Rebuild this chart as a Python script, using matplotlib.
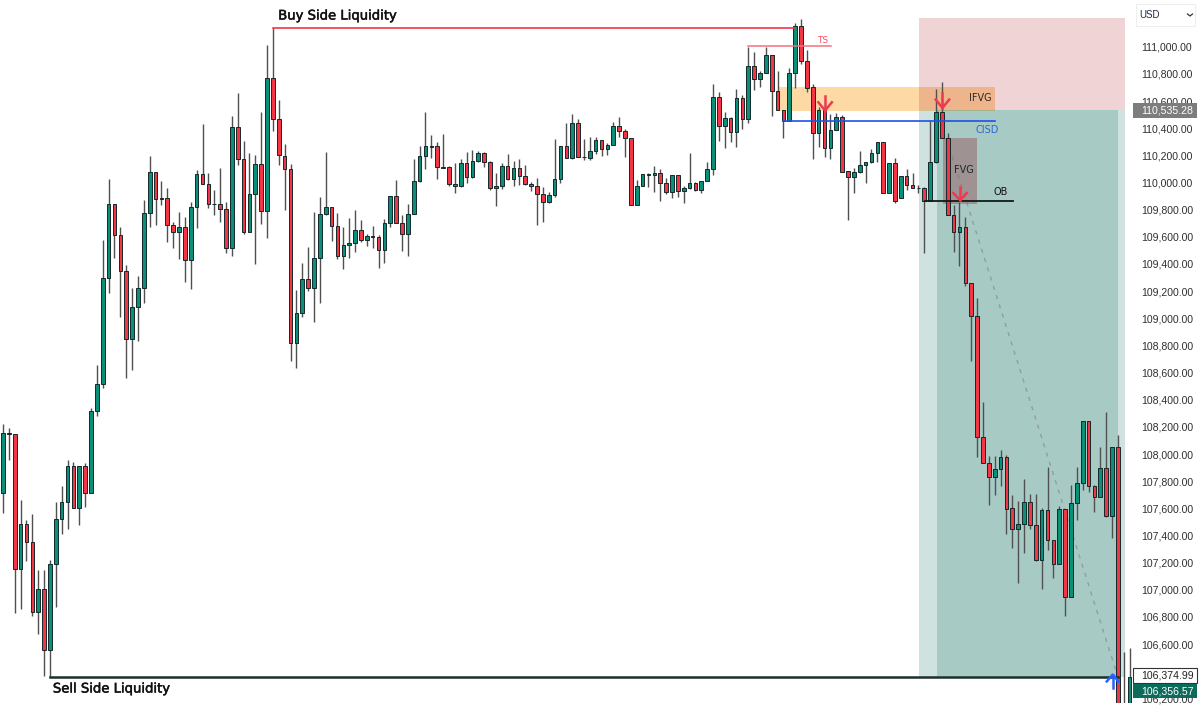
from __future__ import annotations

import matplotlib

matplotlib.use("Agg")

import matplotlib.patheffects as pe
import matplotlib.pyplot as plt
import numpy as np
from matplotlib.patches import Rectangle


OPENS = [
    107710, 108157, 108147, 107155, 107484, 107349, 106836, 107003, 106554, 107187,
    107519, 107644, 107911, 107600, 107911, 107715, 108317, 108513, 109294, 109839,
    109611, 109348, 108845, 109080, 109223, 109777, 110075, 109883, 109883, 109687,
    109635, 109670, 109431, 109817, 110060, 109991, 109841, 109841, 109807, 109515,
    110411, 110171, 109635, 109913, 110134, 109792, 110767, 110467, 110197, 110101,
    108820, 109041, 109291, 109220, 109441, 109765, 109817, 109677, 109458, 109537,
    109552, 109648, 109578, 109603, 109600, 109505, 109704, 109898, 109704, 109623,
    109765, 110009, 110197, 110266, 110266, 110116, 110114, 109991, 109976, 110141,
    110038, 110160, 110217, 110151, 109961, 109974, 110119, 110023, 110107, 110050,
    109986, 109976, 109917, 109856, 109908, 110028, 110269, 110180, 110438, 110190,
    110182, 110232, 110311, 110249, 110276, 110416, 110379, 110327, 109836, 109976,
    110065, 110053, 110070, 109994, 109932, 110055, 109939, 109961, 109998, 109944,
    110013, 110101, 110632, 110416, 110475, 110374, 110620, 110465, 110858, 110762,
    110809, 110939, 110674, 110536, 110453, 110809, 111155, 110897, 110701, 110362,
    110532, 110254, 110384, 110484, 110082, 110042, 110075, 110126, 110148, 110215,
    110296, 109925, 110141, 109883, 110050, 109981, 109959, 109957, 109861, 110148,
    110517, 110330, 109758, 109635, 109674, 109257, 109019, 108123, 107931, 107830,
    107887, 107975, 107600, 107447, 107486, 107644, 107475, 107221, 107587, 107364,
    107192, 107592, 106949, 107637, 107784, 108241, 107764, 107685, 107899, 107545,
    108051, 106100, 106150,
]
HIGHS = [
    108221, 108191, 108147, 107661, 107514, 107556, 107143, 107145, 107217, 107646,
    107764, 107956, 107939, 107911, 107931, 108336, 108655, 109576, 110025, 109839,
    109674, 109392, 109220, 109309, 109869, 110197, 110075, 110009, 109957, 109711,
    109785, 109743, 109854, 110092, 110431, 110068, 109942, 110104, 109856, 110490,
    110657, 110308, 110215, 110202, 110517, 111013, 111136, 110607, 110286, 110136,
    109208, 109409, 109527, 109780, 109891, 110227, 109817, 109777, 109670, 109736,
    109795, 109724, 109620, 109677, 109611, 109729, 109898, 110018, 109763, 109841,
    110173, 110271, 110521, 110350, 110300, 110355, 110119, 110141, 110171, 110224,
    110239, 110234, 110227, 110156, 110068, 110146, 110207, 110160, 110171, 110131,
    110003, 110031, 109964, 109930, 110318, 110269, 110436, 110502, 110467, 110318,
    110337, 110337, 110311, 110293, 110448, 110480, 110392, 110327, 110018, 110065,
    110068, 110121, 110101, 110031, 110055, 110055, 109976, 110219, 110006, 110013,
    110151, 110723, 110669, 110521, 110484, 110686, 110646, 111000, 110963, 110821,
    111000, 110939, 110819, 110536, 110841, 111172, 111202, 110976, 110725, 110554,
    110571, 110502, 110512, 110497, 110082, 110104, 110229, 110153, 110244, 110296,
    110296, 110141, 110178, 110050, 110099, 110072, 109981, 109964, 110460, 110688,
    110742, 110362, 109834, 109858, 109748, 109257, 109151, 108383, 107987, 107985,
    108029, 107992, 107698, 107654, 107816, 107705, 107705, 107600, 107906, 107364,
    107619, 107592, 107772, 107906, 108241, 108241, 107772, 108054, 108307, 108051,
    108140, 106544, 106573,
]
LOWS = [
    107568, 107956, 106831, 106860, 107212, 106809, 106674, 106367, 106359, 106871,
    107411, 107447, 107600, 107479, 107609, 107710, 108280, 108484, 109184, 109446,
    109011, 108562, 108619, 108834, 109110, 109670, 109689, 109834, 109564, 109515,
    109436, 109265, 109213, 109662, 109991, 109814, 109760, 109709, 109483, 109461,
    110129, 109618, 109635, 109397, 109696, 109589, 110381, 110131, 109797, 108687,
    108631, 109011, 109203, 108974, 109110, 109760, 109571, 109436, 109360, 109441,
    109488, 109564, 109532, 109515, 109372, 109409, 109674, 109704, 109497, 109456,
    109765, 110006, 110097, 110178, 110023, 110104, 109976, 109920, 109969, 109994,
    110033, 110151, 110116, 109944, 109827, 109950, 110018, 109974, 109981, 109981,
    109935, 109687, 109709, 109851, 109895, 109998, 110180, 110175, 110185, 110165,
    110165, 110210, 110195, 110202, 110276, 110337, 110185, 109836, 109836, 109976,
    109969, 109932, 109866, 109915, 109888, 109895, 109851, 109954, 109937, 109920,
    110013, 110057, 110305, 110254, 110296, 110263, 110392, 110436, 110681, 110701,
    110809, 110490, 110536, 110325, 110453, 110698, 110873, 110664, 110171, 110259,
    110190, 110175, 110384, 110079, 109723, 109925, 110067, 109994, 110141, 110153,
    109925, 109925, 109851, 109883, 109944, 109957, 109925, 109483, 109861, 110141,
    110330, 109758, 109490, 109387, 109240, 108687, 107980, 107931, 107624, 107698,
    107764, 107411, 107305, 107048, 107268, 107445, 107214, 107008, 107293, 107084,
    107192, 106809, 106949, 107514, 107735, 107718, 107573, 107685, 107538, 107383,
    106000, 106000, 106000,
]
CLOSES = [
    108157, 108145, 107155, 107482, 107349, 106836, 107003, 106554, 107187, 107519,
    107644, 107914, 107600, 107911, 107715, 108317, 108513, 109294, 109839, 109611,
    109348, 108845, 109080, 109223, 109777, 110075, 109880, 109880, 109689, 109635,
    109670, 109431, 109817, 110060, 109991, 109841, 109839, 109807, 109515, 110411,
    110171, 109635, 109913, 110134, 109792, 110767, 110467, 110200, 110101, 108820,
    109041, 109291, 109220, 109441, 109765, 109817, 109677, 109458, 109537, 109552,
    109648, 109578, 109606, 109600, 109505, 109704, 109898, 109704, 109623, 109765,
    110009, 110197, 110266, 110263, 110116, 110109, 109991, 109976, 110141, 110038,
    110160, 110217, 110151, 109959, 109976, 110119, 110023, 110107, 110048, 109986,
    109976, 109917, 109856, 109908, 110028, 110269, 110180, 110438, 110190, 110185,
    110232, 110311, 110249, 110276, 110416, 110379, 110327, 109836, 109976, 110065,
    110055, 110072, 109994, 109932, 110055, 109937, 109961, 109996, 109944, 110013,
    110101, 110632, 110418, 110475, 110374, 110620, 110465, 110858, 110762, 110809,
    110939, 110674, 110536, 110453, 110809, 111155, 110897, 110698, 110362, 110532,
    110254, 110384, 110484, 110079, 110042, 110075, 110126, 110153, 110215, 110296,
    109925, 110141, 109866, 110050, 109981, 109961, 109957, 109861, 110148, 110517,
    110330, 109758, 109635, 109674, 109257, 109019, 108123, 107931, 107830, 107887,
    107975, 107595, 107447, 107486, 107644, 107475, 107219, 107587, 107364, 107192,
    107592, 106949, 107637, 107784, 108241, 107764, 107685, 107899, 107545, 108051,
    106100, 106120, 106357,
]

PRICE_TICKS = list(range(106200, 111001, 200))

ENTRY_PRICE = 110535.28
STOP_PRICE = 111211
TARGET_PRICE = 106358
TARGET_LABEL = 106374.99
LAST_PRICE = 106356.57
BUY_LEVEL = 111136
TS_LEVEL = 111003
CISD_LEVEL = 110450
OB_LEVEL = 109860
IFVG_TOP, IFVG_BOTTOM = 110705, 110529
FVG_TOP, FVG_BOTTOM = 110325, 109839

UP = "#0a8f79"
DOWN = "#f23645"
EDGE = "#14282a"
WICK = "#505050"

WIDTH, HEIGHT = 1200, 709


def band(ax, x0, x1, top, bottom, color, alpha, z):
    ax.add_patch(Rectangle((x0, bottom), x1 - x0, top - bottom, facecolor=color, edgecolor="none", alpha=alpha, zorder=z))


def down_arrow(ax, x, tip, tail):
    arm = (tail - tip) * 0.55
    ax.plot([x, x], [tail, tip], color="#ee3a50", lw=1.8, zorder=6)
    ax.plot([x - 1.15, x, x + 1.15], [tip + arm, tip, tip + arm], color="#ee3a50", lw=1.8, zorder=6)


def up_arrow(ax, x, tip, tail):
    arm = (tip - tail) * 0.5
    ax.plot([x, x], [tail, tip], color="#2962ff", lw=1.8, zorder=6, clip_on=False)
    ax.plot([x - 1.0, x, x + 1.0], [tip - arm, tip, tip - arm], color="#2962ff", lw=1.8, zorder=6, clip_on=False)


def price_tag(fig, top, bottom, value, fc, color, ec="none"):
    # sits on the price scale, the boxes get pushed apart there so they are placed by pixel
    fig.add_artist(Rectangle((1133 / WIDTH, 1 - bottom / HEIGHT), 63.5 / WIDTH, (bottom - top) / HEIGHT,
                             transform=fig.transFigure, facecolor=fc, edgecolor=ec, lw=0.8, zorder=8))
    fig.text(1141 / WIDTH, 1 - (top + bottom) / 2 / HEIGHT, f"{value:,.2f}", fontsize=7.6, color=color,
             va="center", zorder=9)


def main() -> None:
    plt.rcParams["font.family"] = ["Liberation Sans", "DejaVu Sans"]
    fig = plt.figure(figsize=(12, 7.09), dpi=100)
    ax = fig.add_axes([0, 6 / HEIGHT, 1132 / WIDTH, 703 / HEIGHT])

    idx = np.arange(len(OPENS))
    opens, highs, lows, closes = map(np.array, (OPENS, HIGHS, LOWS, CLOSES))
    colors = [UP if c >= o else DOWN for o, c in zip(opens, closes)]

    # position tool boxes go over the ifvg band, that is what gives the darker orange
    band(ax, 132.2, 169.05, IFVG_TOP, IFVG_BOTTOM, "#fcc06b", 0.6, 1.0)
    band(ax, 156.1, 191.2, STOP_PRICE, ENTRY_PRICE, "#b4282d", 0.2, 1.1)
    band(ax, 156.1, 191.2, ENTRY_PRICE, TARGET_PRICE, "#0f6e5f", 0.2, 1.1)
    band(ax, 159.2, 190.0, ENTRY_PRICE, TARGET_PRICE, "#0f6e5f", 0.2, 1.2)
    ax.plot([159.2, 190.0], [ENTRY_PRICE, TARGET_PRICE], color="#8f9f9c", lw=1.0, ls=(0, (3, 4)), zorder=1.3)
    band(ax, 160.2, 166.0, FVG_TOP, FVG_BOTTOM, "#96646a", 0.55, 1.4)

    ax.vlines(idx, lows, highs, color=WICK, lw=1.0, zorder=2)
    ax.bar(idx, closes - opens, bottom=opens, width=0.62, color=colors, edgecolor=EDGE, linewidth=0.7, zorder=3)

    ax.plot([46, 135], [BUY_LEVEL, BUY_LEVEL], color="#f23645", lw=1.2, zorder=4)
    ax.plot([127, 141.05], [TS_LEVEL, TS_LEVEL], color="#f4717f", lw=1.1, zorder=4)
    ax.plot([132.9, 169.05], [CISD_LEVEL, CISD_LEVEL], color="#1e53e5", lw=1.2, zorder=4)
    ax.plot([157.1, 172.1], [OB_LEVEL, OB_LEVEL], color="#101a1a", lw=1.3, zorder=4)
    ax.plot([8, 190], [TARGET_PRICE, TARGET_PRICE], color="#1c2f2c", lw=1.8, zorder=4)

    down_arrow(ax, 140.1, 110530, 110640)
    down_arrow(ax, 160.1, 110550, 110660)
    down_arrow(ax, 163.1, 109870, 109965)
    up_arrow(ax, 189.1, 106375, 106275)

    note = dict(family=["DejaVu Sans"], va="center", zorder=7)
    heavy = [pe.withStroke(linewidth=0.35, foreground="#111111")]
    ax.text(46.9, 111226, "Buy Side Liquidity", fontsize=9.5, color="#111111", path_effects=heavy, **note)
    ax.text(8.5, 106269, "Sell Side Liquidity", fontsize=9.5, color="#111111", path_effects=heavy, **note)
    ax.text(139.7, 111049, "TS", fontsize=6.5, color="#f2525f", ha="center", **note)
    ax.text(166.5, 110622, "IFVG", fontsize=7, color="#2a2a2a", ha="center", **note)
    ax.text(167.7, 110386, "CISD", fontsize=7, color="#2a6ad0", ha="center", **note)
    ax.text(163.8, 110092, "FVG", fontsize=7, color="#1c2a2a", ha="center", **note)
    ax.text(170.1, 109930, "OB", fontsize=7, color="#111111", ha="center", **note)

    ax.set_xlim(-0.51, 192.4)
    ax.set_ylim(106166, 111344)
    ax.set_xticks([])
    ax.yaxis.tick_right()
    ax.set_yticks(PRICE_TICKS, [f"{p:,.2f}" for p in PRICE_TICKS])
    ax.tick_params(axis="y", length=0, pad=6.5, labelsize=7.6, labelcolor="#2f2f2f")
    for spine in ax.spines.values():
        spine.set_visible(False)

    price_tag(fig, 103, 118, ENTRY_PRICE, "#7d7d7d", "white")
    price_tag(fig, 668, 683, TARGET_LABEL, "white", "#222222", ec="#333333")
    price_tag(fig, 684, 698, LAST_PRICE, "#0d6b5c", "white")

    fig.add_artist(Rectangle((1136 / WIDTH, 1 - 26 / HEIGHT), 59 / WIDTH, 22 / HEIGHT, transform=fig.transFigure,
                             facecolor="white", edgecolor="#eeeeee", lw=0.8, zorder=8))
    fig.text(1139 / WIDTH, 1 - 15 / HEIGHT, "USD", fontsize=7, color="#1f2a44", ha="left", va="center", zorder=9)
    fig.add_artist(plt.Line2D([1187.5 / WIDTH, 1190 / WIDTH, 1192.5 / WIDTH], [1 - 14 / HEIGHT, 1 - 16 / HEIGHT, 1 - 14 / HEIGHT],
                              color="#333333", lw=0.9, zorder=9))

    fig.savefig("out.png", dpi=100)
    plt.close(fig)


if __name__ == "__main__":
    main()
